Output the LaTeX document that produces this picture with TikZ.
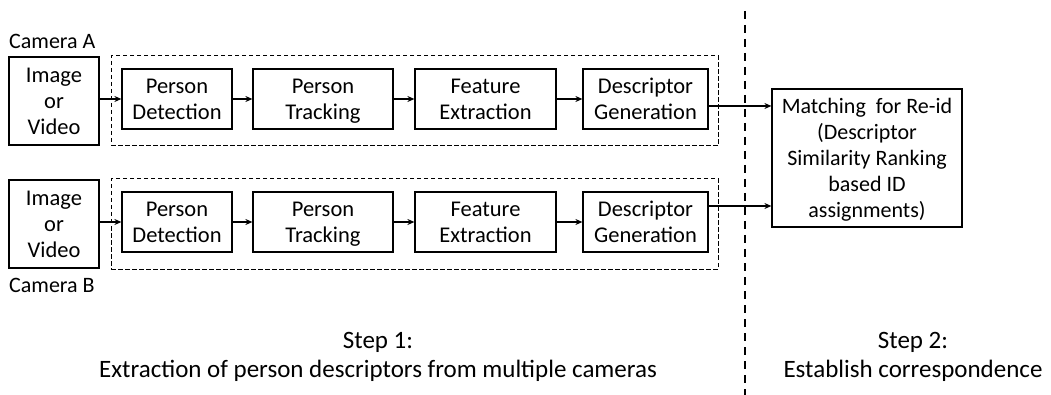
\documentclass[tikz,border=0pt]{standalone}
\usepackage{fontspec}
\setmainfont{Carlito}
\usepackage{tikz}
\usetikzlibrary{arrows.meta, positioning, calc}
\tikzset{
  procbox/.style={draw=black, line width=1.2pt, inner sep=0pt, align=center,
    minimum height=60pt, text depth=0pt, font=\fontsize{22.5}{26}\selectfont},
  stagebox/.style={draw=black, line width=1pt, dash pattern=on 4.5pt off 2.5pt,
    inner sep=0pt, minimum height=90pt},
  flow/.style={-{Stealth[length=7pt,width=6pt]}, line width=1.1pt},
  camlabel/.style={anchor=west, inner sep=0pt, font=\fontsize{22}{25}\selectfont},
  steptext/.style={align=center, inner sep=0pt, font=\fontsize{25}{29}\selectfont},
  divider/.style={line width=1.6pt, dash pattern=on 8pt off 6pt},
}
% one camera row: #1 = suffix, #2 = y of the boxes
\newcommand{\camrow}[2]{%
  \node[stagebox, minimum width=607pt] (stage#1) at (414.5,#2+2) {};
  \node[procbox, minimum width=90pt, minimum height=88pt] (img#1) at (54,#2+2) {Image\\or\\Video};
  \node[procbox, minimum width=110pt] (det#1) at (177,#2) {Person\\Detection};
  \node[procbox, minimum width=140pt] (trk#1) at (323,#2) {Person\\Tracking};
  \node[procbox, minimum width=141pt] (feat#1) at (485.5,#2) {Feature\\Extraction};
  \node[procbox, minimum width=125pt] (desc#1) at (645.5,#2) {Descriptor\\Generation};
  \draw[flow] (img#1.east |- det#1.west) -- (det#1.west);
  \draw[flow] (det#1) -- (trk#1);
  \draw[flow] (trk#1) -- (feat#1);
  \draw[flow] (feat#1) -- (desc#1);
}

\begin{document}
\begin{tikzpicture}[x=1pt, y=-1pt]
  \useasboundingbox (0,0) rectangle (1051,395);

  % Step 1
  \node[camlabel] (camA) at (9,41) {Camera A};
  \camrow{A}{99}
  \camrow{B}{222}
  \node[camlabel] (camB) at (9,285) {Camera B};

  % Step 2
  \node[procbox, minimum width=190pt, minimum height=138pt,
    font=\fontsize{22}{26}\selectfont] (match) at (867,158)
    {Matching~ for Re-id\\(Descriptor\\Similarity Ranking\\based ID\\assignments)};
  \draw[flow] ([yshift=-7pt]descA.east) -- ([yshift=-7pt]descA.east -| match.west);
  \draw[flow] ([yshift=16pt]descB.east) -- ([yshift=16pt]descB.east -| match.west);

  \coordinate (divtop) at (745,11);
  \coordinate (divbot) at (745,395);
  \draw[divider] (divtop) -- (divbot);

  \node[steptext] (step1) at (378,357) {Step 1:\\Extraction of person descriptors from multiple cameras};
  \node[steptext] (step2) at (913,357) {Step 2:\\Establish correspondence};
\end{tikzpicture}
\end{document}
